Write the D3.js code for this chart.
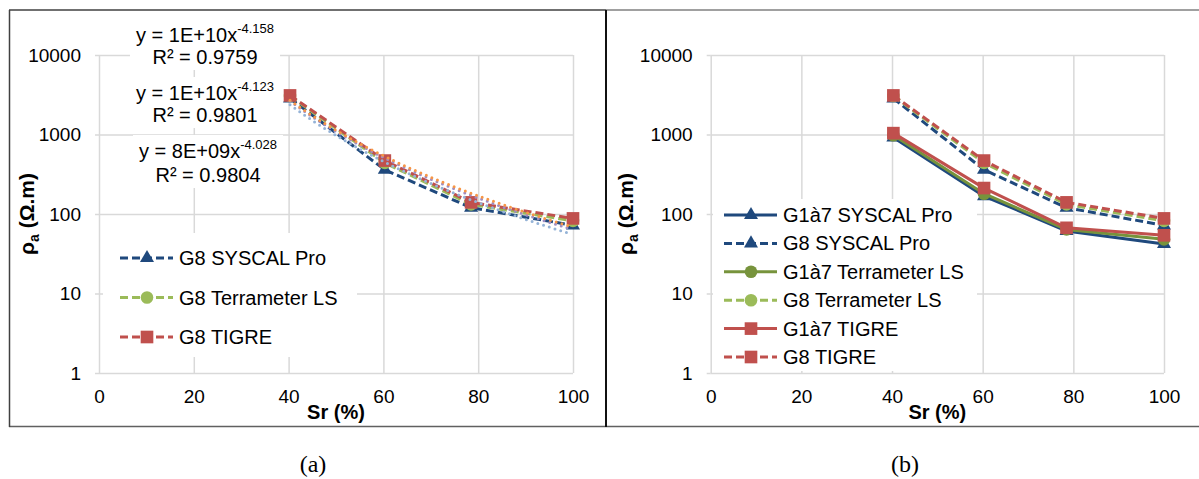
<!DOCTYPE html>
<html><head><meta charset="utf-8">
<script src="https://cdn.jsdelivr.net/npm/d3@7"></script>
<style>
body{margin:0;background:#fff}
svg{display:block}
text{font-family:"Liberation Sans",Arial,sans-serif;fill:#000}
</style>
</head><body><svg id="c" width="1199" height="479"></svg>
<script>
// ---------- data ----------
const sr = [40.3, 60.3, 78.5, 100];
const g8Syscal = [2850, 360, 120, 72];
const g8Terra = [3050, 440, 132, 82];
const g8Tigre = [3100, 470, 140, 88];
const g17Syscal = [920, 168, 61, 42];
const g17Terra = [980, 180, 64, 48];
const g17Tigre = [1040, 212, 67, 54];
const xTicks = [0, 20, 40, 60, 80, 100];
const yTicks = [1, 10, 100, 1000, 10000];
const eqTexts = ["y = 1E+10x", "y = 1E+10x", "y = 8E+09x"];
const eqExps = ["-4.158", "-4.123", "-4.028"];
const r2Texts = ["R² = 0.9759", "R² = 0.9801", "R² = 0.9804"];
const legendA = ["G8 SYSCAL Pro", "G8 Terrameter LS", "G8 TIGRE"];
const legendB = ["G1à7 SYSCAL Pro", "G8 SYSCAL Pro", "G1à7 Terrameter LS", "G8 Terrameter LS", "G1à7 TIGRE", "G8 TIGRE"];
const captions = ["(a)", "(b)"];

// ---------- styles ----------
const C_BLUE = "#1F497D", C_GREEN_L = "#9BBB59", C_GREEN_D = "#77933C", C_RED = "#C0504D";
const TREND_COLORS = ["#95B3D7", "#A08CC0", "#F79646"];
const GRID = "#D9D9D9";

const svg = d3.select("#c");
svg.append("rect").attr("width", 1199).attr("height", 479).attr("fill", "#fff");

function symbolPath(kind) {
  if (kind === "tri") return d3.symbol(d3.symbolTriangle, 85)();
  if (kind === "sq") return d3.symbol(d3.symbolSquare, 160)();
  return d3.symbol(d3.symbolCircle, 125)();
}

function makePanel(cfg) {
  const x = d3.scaleLinear().domain([0, 100]).range([cfg.x0, cfg.x1]);
  const y = d3.scaleLog().domain([1, 10000]).range([373, 55]);
  const g = svg.append("g");
  const w = cfg.x1 - cfg.x0, h = 373 - 55;

  const gx = g.append("g").attr("transform", `translate(0,373)`)
    .call(d3.axisBottom(x).tickValues(xTicks).tickSizeInner(-h).tickSizeOuter(0).tickPadding(17));
  gx.select(".domain").remove();
  gx.selectAll("line").attr("stroke", GRID).attr("stroke-width", 1.5);
  gx.selectAll("text").attr("font-size", 19).attr("fill", "#000");

  const gyo = g.append("g").attr("transform", `translate(${cfg.x0},0)`)
    .call(d3.axisLeft(y).tickValues(yTicks).tickSize(4).tickFormat(""));
  gyo.select(".domain").remove();
  gyo.selectAll("line").attr("stroke", GRID).attr("stroke-width", 1.5);

  const gy = g.append("g").attr("transform", `translate(${cfg.x0},0)`)
    .call(d3.axisLeft(y).tickValues(yTicks).tickFormat(d3.format("d")).tickSizeInner(-w).tickSizeOuter(0).tickPadding(18));
  gy.select(".domain").remove();
  gy.selectAll("line").attr("stroke", GRID).attr("stroke-width", 1.5);
  gy.selectAll("text").attr("font-size", 19).attr("fill", "#000");

  g.append("text").attr("x", (cfg.x0 + cfg.x1) / 2).attr("y", 419)
    .attr("text-anchor", "middle").attr("font-size", 20).attr("font-weight", "bold").text("Sr (%)");
  const yt = g.append("text").attr("transform", `translate(${cfg.titleX},214) rotate(-90)`)
    .attr("text-anchor", "middle").attr("font-size", 21).attr("font-weight", "bold");
  yt.append("tspan").text("ρ");
  yt.append("tspan").attr("font-size", 14).attr("dy", 5).text("a");
  yt.append("tspan").attr("dy", -5).text(" (Ω.m)");

  return {g, x, y};
}

function drawSeries(p, vals, color, dashed, kind) {
  const line = d3.line().x((d, i) => p.x(sr[i])).y(d => p.y(d));
  p.g.append("path").attr("d", line(vals)).attr("fill", "none").attr("stroke", color)
    .attr("stroke-width", 3).attr("stroke-dasharray", dashed ? "8,4" : null);
  p.g.selectAll(null).data(vals).enter().append("path")
    .attr("d", symbolPath(kind))
    .attr("transform", (d, i) => `translate(${p.x(sr[i])},${p.y(d)})`)
    .attr("fill", color);
}

function drawLegend(p, items, box, y0, step, lx0) {
  p.g.append("rect").attr("x", box[0]).attr("y", box[1]).attr("width", box[2]).attr("height", box[3]).attr("fill", "#fff");
  items.forEach((it, i) => {
    const yy = y0 + i * step;
    p.g.append("line").attr("x1", lx0).attr("x2", lx0 + 53).attr("y1", yy).attr("y2", yy)
      .attr("stroke", it.color).attr("stroke-width", 3).attr("stroke-dasharray", it.dashed ? "8,4" : null);
    p.g.append("path").attr("d", symbolPath(it.kind)).attr("transform", `translate(${lx0 + 27},${yy})`).attr("fill", it.color);
    p.g.append("text").attr("x", lx0 + 59).attr("y", yy).attr("dy", "0.35em").attr("font-size", 20).text(it.label);
  });
}

// ---------- panel (a) ----------
const pa = makePanel({x0: 99, x1: 573, titleX: 34});
const seriesA = [
  {vals: g8Syscal, color: C_BLUE, kind: "tri"},
  {vals: g8Terra, color: C_GREEN_L, kind: "circ"},
  {vals: g8Tigre, color: C_RED, kind: "sq"}
];
seriesA.forEach(s => drawSeries(pa, s.vals, s.color, true, s.kind));

// power trendlines (least-squares fit in log-log space)
seriesA.forEach((s, k) => {
  const lx = sr.map(Math.log10), ly = s.vals.map(Math.log10);
  const mx = d3.mean(lx), my = d3.mean(ly);
  const b = d3.sum(lx.map((v, i) => (v - mx) * (ly[i] - my))) / d3.sum(lx.map(v => (v - mx) ** 2));
  const a = my - b * mx;
  const xs = d3.range(sr[0], sr[sr.length - 1] + 0.01, 0.5);
  const line = d3.line().x(d => pa.x(d)).y(d => pa.y(Math.pow(10, a + b * Math.log10(d))));
  pa.g.append("path").attr("d", line(xs)).attr("fill", "none").attr("stroke", TREND_COLORS[k])
    .attr("stroke-width", 3).attr("stroke-linecap", "round").attr("stroke-dasharray", "0,6");
});

const eqPos = [[205, 42, 64], [205, 100, 122], [208, 158, 182]];
eqTexts.forEach((t, i) => {
  const [cx, y1, y2] = eqPos[i];
  const lg = pa.g.append("g");
  const bg = lg.append("rect").attr("fill", "#fff");
  const t1 = lg.append("text").attr("x", cx).attr("y", y1).attr("text-anchor", "middle").attr("font-size", 20);
  t1.append("tspan").text(t);
  t1.append("tspan").attr("font-size", 13).attr("dy", -9).text(eqExps[i]);
  lg.append("text").attr("x", cx).attr("y", y2).attr("text-anchor", "middle").attr("font-size", 20).text(r2Texts[i]);
  const bb = lg.node().getBBox();
  bg.attr("x", bb.x - 6).attr("y", bb.y - 2).attr("width", bb.width + 12).attr("height", bb.height + 4);
});

drawLegend(pa, [
  {label: legendA[0], color: C_BLUE, dashed: true, kind: "tri"},
  {label: legendA[1], color: C_GREEN_L, dashed: true, kind: "circ"},
  {label: legendA[2], color: C_RED, dashed: true, kind: "sq"}
], [103, 233, 254, 124], 258, 39.5, 120);

// ---------- panel (b) ----------
const pb = makePanel({x0: 710.7, x1: 1164, titleX: 633});
const seriesB = [
  {vals: g17Syscal, color: C_BLUE, dashed: false, kind: "tri"},
  {vals: g8Syscal, color: C_BLUE, dashed: true, kind: "tri"},
  {vals: g17Terra, color: C_GREEN_D, dashed: false, kind: "circ"},
  {vals: g8Terra, color: C_GREEN_L, dashed: true, kind: "circ"},
  {vals: g17Tigre, color: C_RED, dashed: false, kind: "sq"},
  {vals: g8Tigre, color: C_RED, dashed: true, kind: "sq"}
];
seriesB.forEach(s => drawSeries(pb, s.vals, s.color, s.dashed, s.kind));
drawLegend(pb, seriesB.map((s, i) => ({label: legendB[i], color: s.color, dashed: s.dashed, kind: s.kind})),
  [713, 199, 264, 172], 215, 28.4, 724);

// ---------- frame & captions ----------
const fr = svg.append("g").attr("fill", "none");
fr.append("line").attr("x1", 9).attr("x2", 606).attr("y1", 10).attr("y2", 10).attr("stroke", "#404040").attr("stroke-width", 1.5);
fr.append("line").attr("x1", 606).attr("x2", 1199).attr("y1", 10).attr("y2", 10).attr("stroke", "#808080").attr("stroke-width", 1.5);
fr.append("line").attr("x1", 9).attr("x2", 1199).attr("y1", 426.5).attr("y2", 426.5).attr("stroke", "#606060").attr("stroke-width", 1.5);
fr.append("line").attr("x1", 9.5).attr("x2", 9.5).attr("y1", 10).attr("y2", 427).attr("stroke", "#404040").attr("stroke-width", 1.5);
fr.append("line").attr("x1", 606).attr("x2", 606).attr("y1", 10).attr("y2", 427).attr("stroke", "#111").attr("stroke-width", 2);

[[313, captions[0]], [905, captions[1]]].forEach(([cx, t]) => {
  svg.append("text").attr("x", cx).attr("y", 472).attr("text-anchor", "middle")
    .style("font-family", "'Liberation Serif','Times New Roman',serif").attr("font-size", 24).text(t);
});
</script>
</body></html>
